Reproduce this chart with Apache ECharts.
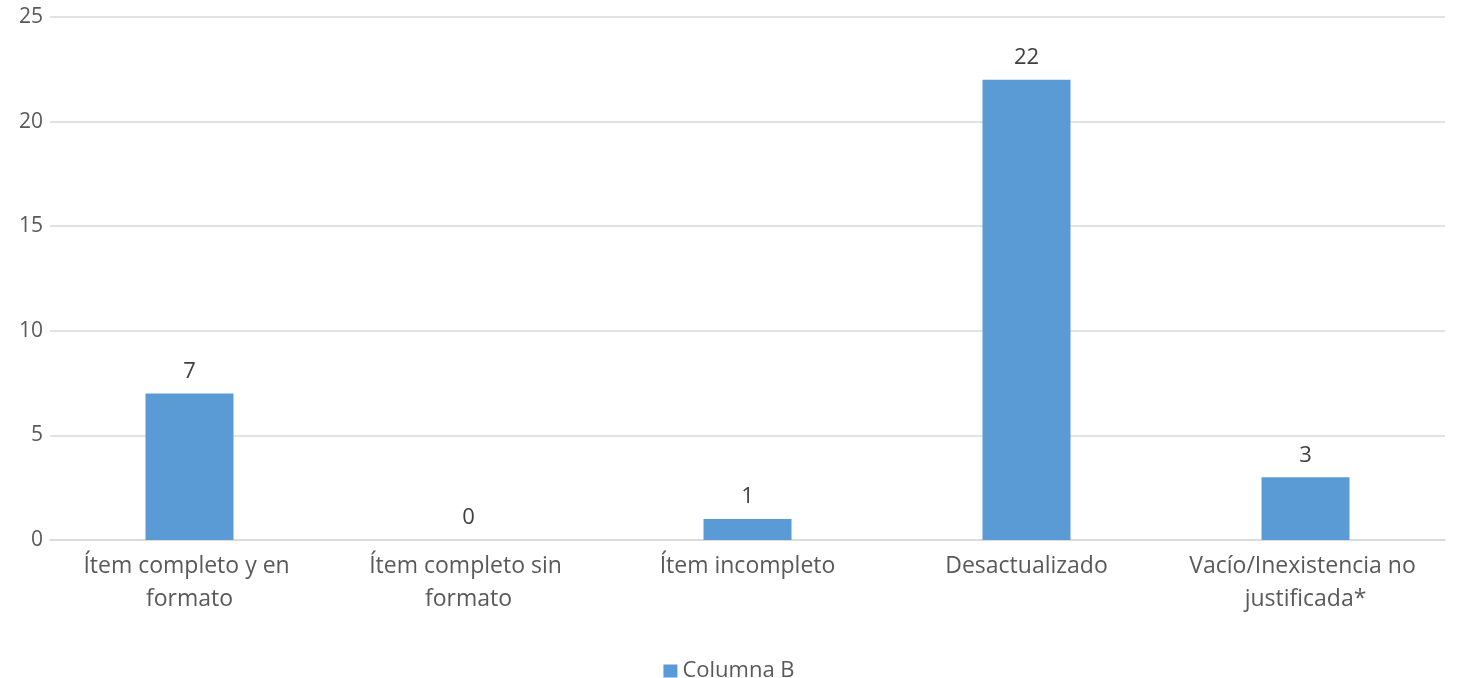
<!DOCTYPE html>
<html>
<head>
<meta charset="utf-8">
<script src="https://cdn.jsdelivr.net/npm/echarts@6/dist/echarts.min.js"></script>
<style>
html,body{margin:0;padding:0;background:#fff;}
#chart{width:1458px;height:678px;}
</style>
</head>
<body>
<div id="chart"></div>
<script>
const categories = ['Ítem completo y en formato', 'Ítem completo sin formato', 'Ítem incompleto', 'Desactualizado', 'Vacío/Inexistencia no justificada*'];
const seriesName = 'Columna B';
const values = [7, 0, 1, 22, 3];
const yTicks = [0, 5, 10, 15, 20, 25];

const chart = echarts.init(document.getElementById('chart'));
const font = '"Open Sans", "Noto Sans", sans-serif';
chart.setOption({
  backgroundColor: '#ffffff',
  animation: false,
  grid: {left: 50, right: 13, top: 17, bottom: 138, containLabel: false},
  legend: {
    data: [seriesName], top: 655, left: 'center',
    icon: 'rect', itemWidth: 14, itemHeight: 13, itemGap: 9,
    textStyle: {fontFamily: font, fontSize: 22, color: '#595959'}
  },
  xAxis: {
    type: 'category', data: categories,
    axisLine: {lineStyle: {color: '#d9d9d9', width: 1.5}},
    axisTick: {show: false},
    axisLabel: {
      interval: 0, margin: 10, width: 262, overflow: 'break',
      fontFamily: font, fontSize: 23, color: '#595959', lineHeight: 33
    }
  },
  yAxis: {
    type: 'value', min: yTicks[0], max: yTicks[yTicks.length - 1], interval: 5,
    axisLine: {show: false}, axisTick: {show: false},
    axisLabel: {fontFamily: font, fontSize: 21, color: '#595959', margin: 7},
    splitLine: {lineStyle: {color: '#d9d9d9', width: 1.5}}
  },
  series: [{
    name: seriesName, type: 'bar', data: values,
    barWidth: 88,
    itemStyle: {color: '#5B9BD5'},
    label: {show: true, position: 'top', distance: 11, fontFamily: font, fontSize: 22, color: '#404040'}
  }]
});
</script>
</body>
</html>
